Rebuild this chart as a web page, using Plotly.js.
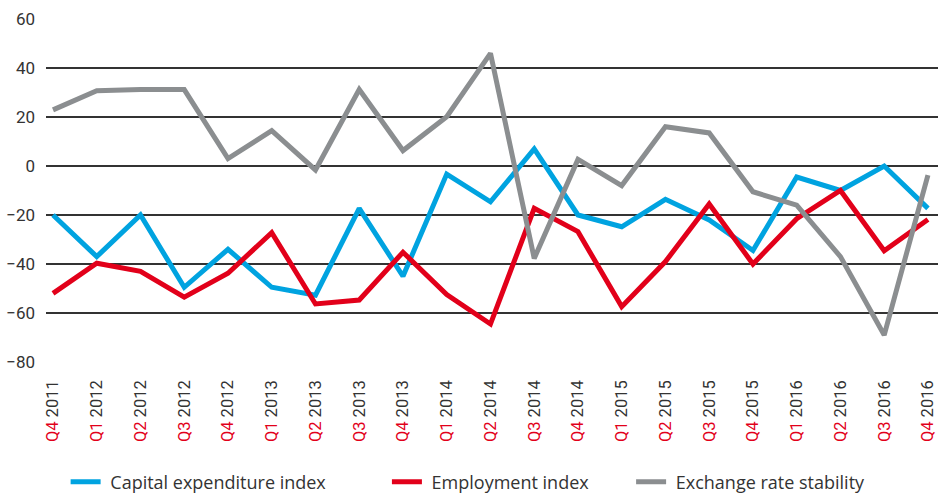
<!DOCTYPE html>
<html>
<head>
<meta charset="utf-8">
<script src="https://cdn.plot.ly/plotly-3.0.1.min.js"></script>
<style>html,body{margin:0;padding:0;background:#fff;}#chart{width:951px;height:493px;}</style>
</head>
<body>
<div id="chart"></div>
<script>
var quarters = ["Q4","Q1","Q2","Q3","Q4","Q1","Q2","Q3","Q4","Q1","Q2","Q3","Q4","Q1","Q2","Q3","Q4","Q1","Q2","Q3","Q4"];
var years = ["2011","2012","2012","2012","2012","2013","2013","2013","2013","2014","2014","2014","2014","2015","2015","2015","2015","2016","2016","2016","2016"];
var capex = [-20,-37,-20,-49.5,-34,-49.5,-52.7,-17.3,-45,-3.3,-14.6,7,-20,-24.8,-13.6,-22,-34.5,-4.5,-10,0,-17.3];
var employment = [-52,-39.7,-43,-53.5,-43.8,-27.2,-56.3,-54.7,-35.2,-52.5,-64.5,-17.3,-26.8,-57.4,-39,-15.5,-40,-21.5,-10,-34.6,-21.8];
var exchange = [22.9,30.7,31.2,31.2,3,14.4,-1.6,31.2,6.3,20.1,46,-37.7,2.7,-8,16,13.5,-10.5,-16,-37,-69,-3.7];
var seriesNames = ["Capital expenditure index","Employment index","Exchange rate stability"];

var idx = quarters.map(function(q,i){return i;});
var labels = quarters.map(function(q,i){return '<span style="color:#e2001a">'+q+'</span> '+years[i];});

var NB = '\u00a0';
function pad(n){ return new Array(n+1).join(NB); }
var trailing = [12, 8, 0];

var colors = ["#00a3e0","#e2001a","#8b8e90"];
var data = [capex, employment, exchange].map(function(arr,k){
  return {x: idx, y: arr, type:'scatter', mode:'lines', name: pad(1) + seriesNames[k] + pad(trailing[k]),
          line:{color: colors[k], width:5, shape:'linear'}, hoverinfo:'skip'};
});

var layout = {
  width:951, height:493,
  margin:{l:46, r:13, t:19, b:131},
  paper_bgcolor:'#fff', plot_bgcolor:'#fff',
  font:{family:'Roboto, "Open Sans", sans-serif', color:'#333', size:16},
  showlegend:true,
  legend:{orientation:'h', xref:'container', yref:'container', x:0.069, y:0.022, xanchor:'left', yanchor:'middle',
          font:{family:'"Open Sans", Roboto, sans-serif', size:18, color:'#333'}, itemwidth:30, traceorder:'normal'},
  xaxis:{type:'linear', range:[-0.16, 20.23], tickmode:'array', tickvals: idx, ticktext: labels,
         tickangle:-90, showgrid:false, zeroline:false, showline:false, ticks:'', ticklabelstandoff:14,
         tickfont:{size:16.5, color:'#333'}, fixedrange:true},
  yaxis:{range:[-80,60], tickmode:'array', tickvals:[-80,-60,-40,-20,0,20,40,60], showgrid:true,
         gridcolor:'#333', gridwidth:1.3, zeroline:false, showline:false, ticks:'', ticklabelstandoff:10,
         tickfont:{size:17, color:'#333'}, fixedrange:true}
};
Plotly.newPlot('chart', data, layout, {displayModeBar:false, staticPlot:true});
</script>
</body>
</html>
